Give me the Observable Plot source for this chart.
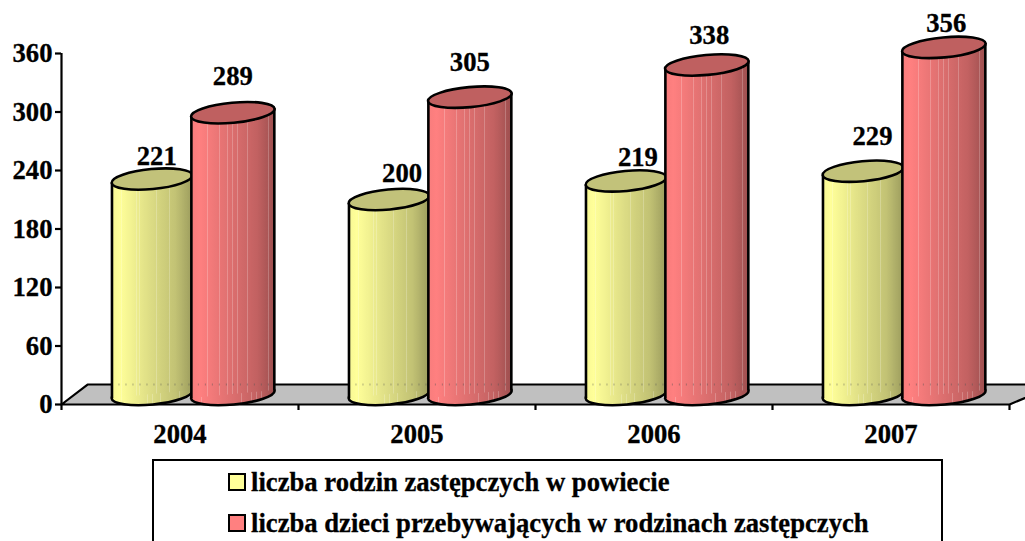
<!DOCTYPE html>
<html lang="pl">
<head>
<meta charset="utf-8">
<script src="https://cdn.jsdelivr.net/npm/d3@7"></script>
<script src="https://cdn.jsdelivr.net/npm/@observablehq/plot@0.6"></script>
<style>
html,body{margin:0;padding:0;background:#fff;width:1025px;height:541px;overflow:hidden}
#chart svg{display:block;overflow:visible}
#chart text{stroke:#000;stroke-width:.3px}
#legend{position:absolute;left:152px;top:459px;width:787px;height:120px;border:2px solid #000;box-sizing:content-box;
  font:bold 26.67px "Liberation Serif",serif;color:#000;-webkit-text-stroke:.3px #000}
.row{position:absolute;left:74px;white-space:nowrap;display:flex;align-items:center;height:30px}
.sw{width:14px;height:14px;border:2px solid #000;margin-right:5px;display:inline-block}
</style>
</head>
<body>
<div id="chart"></div>
<div id="legend">
  <div class="row" style="top:6px"><span class="sw" style="background:#FFFF99"></span><span>liczba rodzin zastępczych w powiecie</span></div>
  <div class="row" style="top:47px"><span class="sw" style="background:#FF8080"></span><span>liczba dzieci przebywających w rodzinach zastępczych</span></div>
</div>
<script>
const years = ["2004", "2005", "2006", "2007"];
const families = [221, 200, 219, 229];
const children = [289, 305, 338, 356];
const yTicks = [0, 60, 120, 180, 240, 300, 360];

// hand placement of the value labels, as in the original chart
const familiesLabelLift = [33, 37, 34, 46];
const childrenLabelLift = [47, 46, 40, 35];
const familiesLabelShift = [0.02, 0.055, 0.05, 0.04];
const childrenLabelShift = [0, 0, 0.01, 0.01];

const TILT = 4.1;      // cylinder tilt, in value units
const BASE_LIFT = -10; // px from the floor front edge to the cylinder base centre
const seriesLayout = [
  {id: "y", values: families, centre: 0.382, half: 0.169, lift: familiesLabelLift, shift: familiesLabelShift, body: "url(#bodyY)", top: "#C2C27A"},
  {id: "r", values: children, centre: 0.723, half: 0.175, lift: childrenLabelLift, shift: childrenLabelShift, body: "url(#bodyR)", top: "#BF6060"}
];

function colorAt(c, t) {
  const L = [[0, .97], [.1, 1], [.5, .86], [.8, .76], [1, .62]];
  let i = 1; while (i < L.length - 1 && L[i][0] < t) i++;
  const a = L[i - 1], b = L[i], k = (t - a[0]) / (b[0] - a[0]);
  const f = a[1] + (b[1] - a[1]) * k;
  const q = d3.rgb(c);
  return d3.rgb(q.r * f, q.g * f, q.b * f).formatHex();
}
const stripeAt = [.12, .2, .31, .345, .44, .5, .56, .6, .68, .72, .78, .84, .88, .93];
function gradient(id, c) {
  const all = [];
  d3.range(0, 1.0001, .02).forEach(t => all.push({t, s: false}));
  stripeAt.forEach(t => { all.push({t: t - .0001, s: false}); all.push({t, s: true}); all.push({t: t + .006, s: true}); all.push({t: t + .0061, s: false}); });
  all.sort((a, b) => a.t - b.t);
  const s = all.map(d => {
    const col = d.s ? d3.interpolateRgb(colorAt(c, d.t), "#fff")(.22) : colorAt(c, d.t);
    return `<stop offset="${d.t}" stop-color="${col}"/>`;
  }).join("");
  return `<linearGradient id="${id}" x1="0" x2="1" y1="0" y2="0">${s}</linearGradient>`;
}

function ellipseSymbol(a, b) {
  const th = -5.4 * Math.PI / 180, c = Math.cos(th), sn = Math.sin(th), k = 0.5523;
  const P = (x, y) => [x * c - y * sn, x * sn + y * c];
  return {
    draw(ctx) {
      ctx.moveTo(...P(a, 0));
      ctx.bezierCurveTo(...P(a, k * b), ...P(k * a, b), ...P(0, b));
      ctx.bezierCurveTo(...P(-k * a, b), ...P(-a, k * b), ...P(-a, 0));
      ctx.bezierCurveTo(...P(-a, -k * b), ...P(-k * a, -b), ...P(0, -b));
      ctx.bezierCurveTo(...P(k * a, -b), ...P(a, -k * b), ...P(a, 0));
      ctx.closePath();
    }
  };
}

const floor = [[0, 0], [0.11, 20.5], [4.2, 20.5], [4, 0], [0, 0]];

const marks = [
  () => {
    const g = document.createElementNS("http://www.w3.org/2000/svg", "g");
    g.innerHTML = `<defs>${gradient("bodyY", "#FFFF99")}${gradient("bodyR", "#FF8080")}</defs>`;
    return g;
  },
  Plot.line(floor, {x: d => d[0], y: d => d[1], fill: "#C0C0C0", stroke: "#000", strokeWidth: 2.2}),
  Plot.ruleX([0], {y1: 0, y2: 360, stroke: "#000", strokeWidth: 2.2}),
  Plot.axisY({ticks: yTicks, tickSize: 6, tickPadding: 3, tickFormat: d => d, label: null, marginLeft: 61, stroke: "#000", strokeWidth: 2.2}),
  Plot.axisX({ticks: [0, 1, 2, 3, 4], tickSize: 6, tickFormat: () => "", label: null, stroke: "#000", strokeWidth: 2.2}),
  Plot.axisX({ticks: years.map((_, i) => i + .5), tickSize: 0, tickPadding: 20, tickFormat: d => years[Math.floor(d)], label: null})
];

for (const s of seriesLayout) {
  const rows = s.values.map((v, i) => ({i, v, x: i + s.centre, left: i + s.centre - s.half, right: i + s.centre + s.half}));
  const edge = rows.flatMap(d => [
    {i: d.i, x: d.left, y1: -TILT, y2: d.v - TILT},
    {i: d.i, x: d.right, y1: TILT, y2: d.v + TILT}
  ]);
  const rx = (s.half * 237) + 0.5;
  marks.push(
    Plot.dot(rows, {x: "x", y: 0, dy: BASE_LIFT, r: 1, symbol: ellipseSymbol(rx, 10), fill: s.body, stroke: "#000", strokeWidth: 2.6}),
    Plot.areaY(edge, {x: "x", y1: "y1", y2: "y2", z: "i", dy: BASE_LIFT, fill: s.body, curve: "linear"}),
    Plot.ruleY(rows, {x1: "left", x2: "right", y: 20.5, stroke: "#555", strokeOpacity: .45, strokeDasharray: "1 6", strokeWidth: 2}),
    Plot.ruleX(edge, {x: "x", y1: "y1", y2: "y2", dy: BASE_LIFT, stroke: "#000", strokeWidth: 2.6}),
    Plot.dot(rows, {x: "x", y: "v", dy: BASE_LIFT, r: 1, symbol: ellipseSymbol(rx, 10), fill: s.top, stroke: "#000", strokeWidth: 2.6}),
    Plot.text(rows, {x: d => d.x + s.shift[d.i], y: d => d.v + s.lift[d.i], text: "v", fill: "#000"})
  );
}

const plot = Plot.plot({
  width: 1025,
  height: 458,
  marginTop: 53,
  marginBottom: 54,
  marginLeft: 61,
  marginRight: 16,
  x: {type: "linear", domain: [0, 4]},
  y: {type: "linear", domain: [0, 360]},
  style: {fontFamily: "'Liberation Serif', serif", fontWeight: "bold", fontSize: "26.67px", color: "#000", background: "transparent"},
  marks
});
document.getElementById("chart").appendChild(plot);
</script>
</body>
</html>
